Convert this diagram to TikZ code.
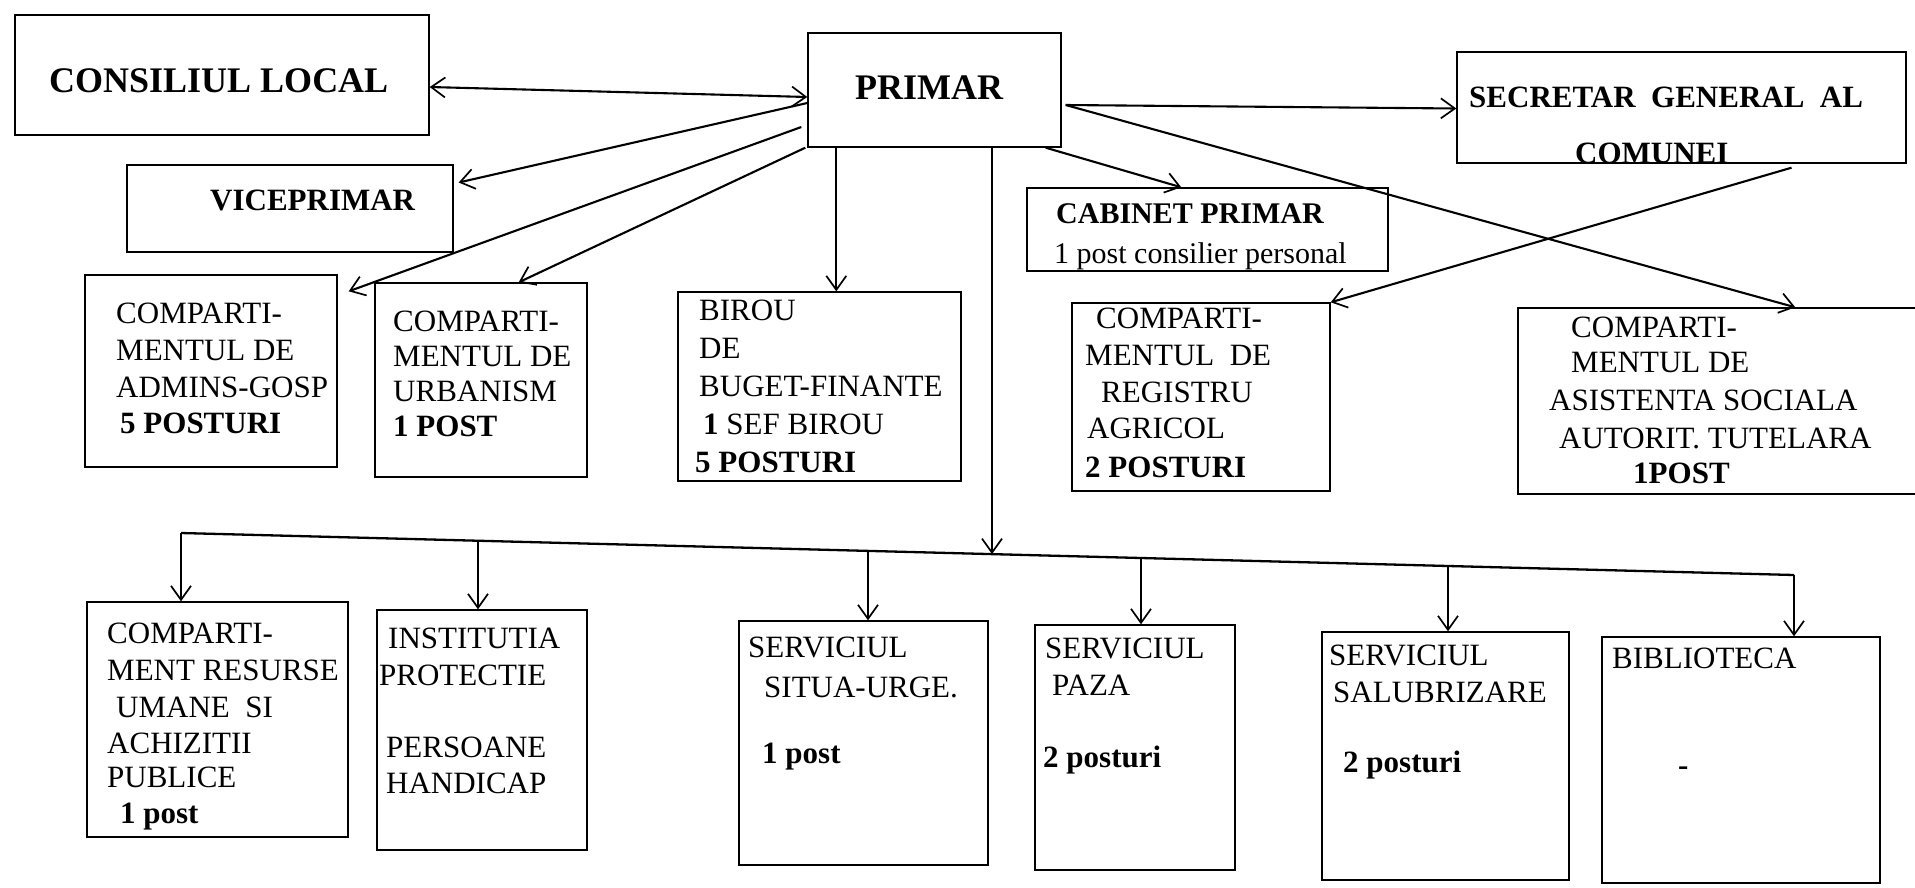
\documentclass[tikz,border=0pt]{standalone}
\usepackage{fontspec}
\setmainfont{Liberation Serif}
\usetikzlibrary{arrows.meta}
\tikzset{
  box/.style={draw, line width=1.4pt, inner sep=0pt, rectangle},
  txt/.style={anchor=base west, inner sep=0pt, font=\fontsize{31}{36}\selectfont},
  btxt/.style={txt, font=\fontsize{31}{36}\selectfont\bfseries},
  big/.style={anchor=base west, inner sep=0pt, font=\fontsize{36}{40}\selectfont\bfseries},
  tip/.tip={Straight Barb[length=14pt,width=20pt,line width=1.7pt]},
  conn/.style={line width=2.1pt, -tip},
  bicon/.style={line width=2.1pt, tip-tip},
  bus/.style={line width=2.3pt}
}
\begin{document}
\begin{tikzpicture}[x=1pt,y=-1pt]
\useasboundingbox (0,0) rectangle (1915,887);
\clip (0,0) rectangle (1915,887);
\fill[white] (0,0) rectangle (1915,887);

% ---------- boxes ----------
\node[box, minimum width=414, minimum height=120] (cons)   at (222,75) {};
\node[box, minimum width=253, minimum height=114] (primar) at (934.5,90) {};
\node[box, minimum width=449, minimum height=111] (secr)   at (1681.5,107.5) {};
\node[box, minimum width=326, minimum height=87]  (vice)   at (290,208.5) {};
\node[box, minimum width=361, minimum height=83]  (cab)    at (1207.5,229.5) {};
\node[box, minimum width=252, minimum height=192] (admins) at (211,371) {};
\node[box, minimum width=212, minimum height=194] (urban)  at (481,380) {};
\node[box, minimum width=283, minimum height=189] (birou)  at (819.5,386.5) {};
\node[box, minimum width=258, minimum height=188] (regis)  at (1201,397) {};
\node[box, minimum width=417, minimum height=186] (asist)  at (1726.5,401) {};
\node[box, minimum width=261, minimum height=235] (res)    at (217.5,719.5) {};
\node[box, minimum width=210, minimum height=240] (inst)   at (482,730) {};
\node[box, minimum width=249, minimum height=244] (situa)  at (863.5,743) {};
\node[box, minimum width=200, minimum height=245] (paza)   at (1135,747.5) {};
\node[box, minimum width=247, minimum height=248] (salub)  at (1445.5,756) {};
\node[box, minimum width=278, minimum height=246] (biblio) at (1741,760) {};

% ---------- texts ----------
\node[big] (consT) at (49,92) {CONSILIUL LOCAL};
\node[big] (primarT) at (855,99) {PRIMAR};
\node[btxt] (secrT1) at (1469,107) {SECRETAR\ \ GENERAL\ \ AL};
\node[btxt] (secrT2) at (1575,163) {COMUNEI};
\node[btxt] (viceT) at (210,210) {VICEPRIMAR};
\node[btxt, font=\fontsize{30}{36}\selectfont\bfseries] (cabT1) at (1056,223) {CABINET PRIMAR};
\node[txt, font=\fontsize{30}{36}\selectfont] (cabT2) at (1054,263) {1 post consilier personal};

\node[txt] (ad1) at (116,323) {COMPARTI-};
\node[txt] (ad2) at (116,360) {MENTUL DE};
\node[txt] (ad3) at (116,397) {ADMINS-GOSP};
\node[btxt] (ad4) at (120,433) {5 POSTURI};

\node[txt] (ur1) at (393,331) {COMPARTI-};
\node[txt] (ur2) at (393,366) {MENTUL DE};
\node[txt] (ur3) at (393,401) {URBANISM};
\node[btxt] (ur4) at (393,436) {1 POST};

\node[txt] (bi1) at (699,320) {BIROU};
\node[txt] (bi2) at (699,358) {DE};
\node[txt] (bi3) at (699,396) {BUGET-FINANTE};
\node[txt] (bi4) at (703,434) {\textbf{1} SEF BIROU};
\node[btxt] (bi5) at (695,472) {5 POSTURI};

\node[txt] (re1) at (1096,328) {COMPARTI-};
\node[txt] (re2) at (1085,365) {MENTUL\ \ DE};
\node[txt] (re3) at (1101,402) {REGISTRU};
\node[txt] (re4) at (1087,438) {AGRICOL};
\node[btxt] (re5) at (1085,477) {2 POSTURI};

\node[txt] (as1) at (1571,337) {COMPARTI-};
\node[txt] (as2) at (1571,372) {MENTUL DE};
\node[txt] (as3) at (1549,410) {ASISTENTA SOCIALA};
\node[txt] (as4) at (1559,448) {AUTORIT. TUTELARA};
\node[btxt] (as5) at (1633,483) {1POST};

\node[txt] (rs1) at (107,643) {COMPARTI-};
\node[txt] (rs2) at (107,680) {MENT RESURSE};
\node[txt] (rs3) at (116,717) {UMANE\ \ SI};
\node[txt] (rs4) at (107,753) {ACHIZITII};
\node[txt] (rs5) at (107,787) {PUBLICE};
\node[btxt] (rs6) at (120,823) {1 post};

\node[txt] (in1) at (388,648) {INSTITUTIA};
\node[txt] (in2) at (379,685) {PROTECTIE};
\node[txt] (in3) at (386,757) {PERSOANE};
\node[txt] (in4) at (386,793) {HANDICAP};

\node[txt] (si1) at (748,657) {SERVICIUL};
\node[txt] (si2) at (764,697) {SITUA-URGE.};
\node[btxt] (si3) at (762,763) {1 post};

\node[txt] (pa1) at (1045,658) {SERVICIUL};
\node[txt] (pa2) at (1052,695) {PAZA};
\node[btxt] (pa3) at (1043,767) {2 posturi};

\node[txt] (sa1) at (1329,665) {SERVICIUL};
\node[txt] (sa2) at (1333,702) {SALUBRIZARE};
\node[btxt] (sa3) at (1343,772) {2 posturi};

\node[txt] (bb1) at (1612,668) {BIBLIOTECA};
\node[btxt] (bb2) at (1678,775) {-};

% ---------- connectors (top) ----------
\draw[bicon] ([yshift=-12pt]cons.east) -- ([yshift=-7pt]primar.west);
\draw[conn] ([yshift=-13pt]primar.west) -- ([xshift=5pt,yshift=26pt]vice.east);
\draw[conn] ([xshift=-6pt,yshift=-37pt]primar.west) -- ([xshift=11pt,yshift=-17pt]admins.north east);
\draw[conn] ([xshift=-2pt]primar.south west) -- ([xshift=-69pt]urban.north east);
\draw[conn] ([xshift=29pt]primar.south west) -- ([xshift=29pt]primar.south west |- birou.north);
\draw[conn] ([xshift=4pt,yshift=-15pt]primar.east) -- ([yshift=-1pt]secr.west);
\draw[conn] ([xshift=4pt,yshift=-15pt]primar.east) -- ([xshift=278pt]asist.north west);
\draw[conn] ([xshift=-16pt]primar.south east) -- ([xshift=155pt]cab.north west);
\draw[conn] ([xshift=110pt,yshift=-4pt]secr.south) -- (regis.north east);

% ---------- bus ----------
\coordinate (b1) at (181,533);
\coordinate (b2) at (478,540.7);
\coordinate (b3) at (868,550.9);
\coordinate (bP) at (992,554.1);
\coordinate (b4) at (1141,558);
\coordinate (b5) at (1448,566);
\coordinate (b6) at (1794,575);
\draw[bus] (b1) -- (b6);
\draw[conn] (primar.south -| bP) -- (bP);
\draw[conn] (b1) -- (b1 |- res.north);
\draw[conn] (b2) -- (b2 |- inst.north);
\draw[conn] (b3) -- (b3 |- situa.north);
\draw[conn] (b4) -- (b4 |- paza.north);
\draw[conn] (b5) -- (b5 |- salub.north);
\draw[conn] (b6) -- (b6 |- biblio.north);
\end{tikzpicture}
\end{document}
